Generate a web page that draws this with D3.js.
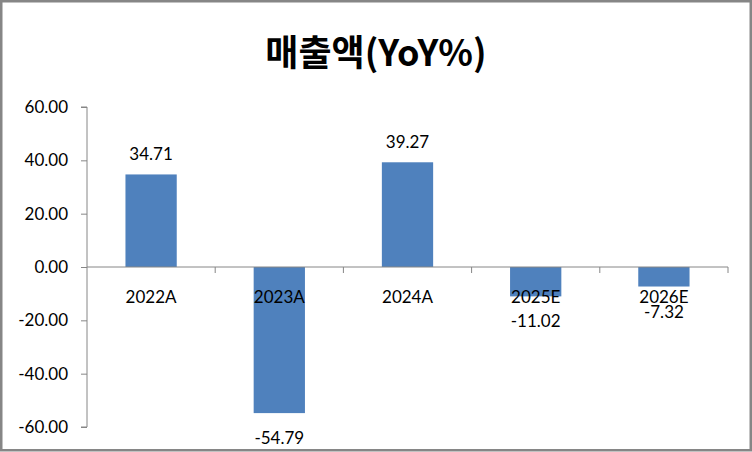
<!DOCTYPE html>
<html><head><meta charset="utf-8">
<script src="https://cdn.jsdelivr.net/npm/d3@7"></script>
<style>html,body{margin:0;padding:0;background:#fff;}svg{display:block;}</style>
</head><body>
<svg id="chart" width="752" height="452"></svg>
<script>
const title = "매출액(YoY%)";
const categories = ["2022A", "2023A", "2024A", "2025E", "2026E"];
const values = [34.71, -54.79, 39.27, -11.02, -7.32];
const yTicks = [-60, -40, -20, 0, 20, 40, 60];

(function () {
const svg = d3.select("#chart");
const W = 752, H = 452;
const pLeft = 87, pRight = 728, pTop = 107, pBottom = 427;
const font = "Lato, 'Noto Sans', sans-serif";
const axisColor = "#868686";
const fmt = d3.formatLocale({decimal: ".", thousands: ",", grouping: [3], currency: ["", ""], minus: "-"}).format(".2f");

svg.append("rect").attr("x", 1.25).attr("y", 1.25).attr("width", W - 2.5).attr("height", H - 3)
  .attr("fill", "#fff").attr("stroke", "#868686").attr("stroke-width", 2.5);

svg.append("text").attr("x", 376).attr("y", 66).attr("text-anchor", "middle")
  .attr("font-family", "'Noto Sans CJK KR', sans-serif").attr("font-weight", "bold")
  .attr("font-size", 36).attr("fill", "#000").text(title);

const y = d3.scaleLinear().domain([-60, 60]).range([pBottom, pTop]);
const x = d3.scaleBand().domain(categories).range([pLeft, pRight]).paddingInner(0).paddingOuter(0);
const barW = x.bandwidth() / 2.5;

// y axis
const yAxis = svg.append("g").attr("transform", `translate(${pLeft},0)`)
  .call(d3.axisLeft(y).tickValues(yTicks).tickFormat(fmt).tickSize(6).tickPadding(13));
yAxis.select(".domain").attr("stroke", axisColor).attr("d", `M-6,${y(60)}H0V${y(-60)}H-6`);
yAxis.selectAll(".tick line").attr("stroke", axisColor);
yAxis.selectAll(".tick text").attr("font-family", font).attr("font-size", 17).attr("fill", "#000");

// bars
svg.append("g").selectAll("rect").data(values).join("rect")
  .attr("x", (d, i) => x(categories[i]) + (x.bandwidth() - barW) / 2)
  .attr("y", d => y(Math.max(0, d)))
  .attr("width", barW)
  .attr("height", d => Math.abs(y(d) - y(0)))
  .attr("fill", "#4F81BD");

// x axis at zero
const xg = svg.append("g").attr("transform", `translate(0,${y(0)})`);
xg.append("line").attr("x1", pLeft).attr("x2", pRight).attr("stroke", axisColor);
const bounds = categories.map(c => x(c)).concat([pRight]);
xg.selectAll("line.tk").data(bounds.slice(1)).join("line").attr("class", "tk")
  .attr("x1", d => d).attr("x2", d => d).attr("y1", 0).attr("y2", 6).attr("stroke", axisColor);
xg.selectAll("text").data(categories).join("text")
  .attr("x", d => x(d) + x.bandwidth() / 2).attr("y", 36)
  .attr("text-anchor", "middle").attr("font-family", font).attr("font-size", 17).attr("fill", "#000")
  .text(d => d);

// value labels
svg.append("g").selectAll("text").data(values).join("text")
  .attr("x", (d, i) => x(categories[i]) + x.bandwidth() / 2)
  .attr("y", d => d >= 0 ? y(d) - 14 : y(d) + 31)
  .attr("text-anchor", "middle").attr("font-family", font).attr("font-size", 17).attr("fill", "#000")
  .text(d => fmt(d));
})();
</script>
</body></html>
